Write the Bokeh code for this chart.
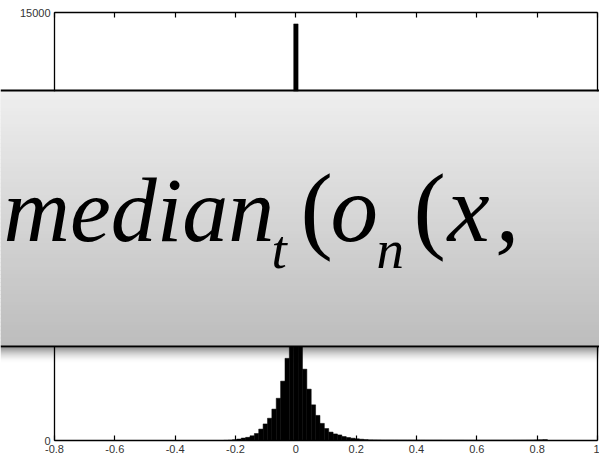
import numpy as np
from bokeh.plotting import figure
from bokeh.models import BoxAnnotation, Label, LinearAxis, FixedTicker, Range1d, ColumnDataSource
from bokeh.embed import file_html
from bokeh.resources import INLINE

# Histogram of the residuals: equal-width bins starting at first_edge
first_edge = -0.239
bin_width = 0.0145
counts = [
    6, 14, 30, 50, 85, 110, 165, 245, 400, 580, 780, 1100, 1480, 2080, 2880, 4600,
    14600,
    4300, 2500, 1800, 1250, 880, 600, 420, 295, 230, 195, 140, 105, 80, 60, 45, 32, 22,
    20, 19, 18, 18, 17, 17, 16, 16, 16, 15, 15, 15, 14, 14, 14, 14, 13, 13, 13, 13,
    13, 12, 12, 12, 12, 12, 12, 12, 12, 12, 12, 12, 13, 13, 14, 15, 17, 20, 26, 32,
]

x_lim = (-0.8, 1.0)
y_lim = (0, 15000)
x_ticks = [-0.8, -0.6, -0.4, -0.2, 0, 0.2, 0.4, 0.6, 0.8, 1]
x_tick_labels = ["-0.8", "-0.6", "-0.4", "-0.2", "0", "0.2", "0.4", "0.6", "0.8", "1"]
y_ticks = [0, 5000, 10000, 15000]
y_tick_labels = ["0", "5000", "10000", "15000"]

# Formula banner drawn across the middle of the chart
formula_parts = [
    # text, x (px), baseline (px from top), size, style
    ("median", 3, 240, 92, "italic"),
    ("t", 271, 267, 55, "italic"),
    ("(", 300, 240, 97, "normal"),
    ("o", 330, 240, 95, "italic"),
    ("n", 376, 267, 55, "italic"),
    ("(", 413, 240, 97, "normal"),
    ("x", 447, 240, 95, "italic"),
    (",", 495, 240, 95, "italic"),
]

SERIF = "'Liberation Serif', 'Times New Roman', serif"
SANS = "'Liberation Sans', Arial, sans-serif"

W, H = 599, 462
# axes box inside the canvas, in pixels
BOX_L, BOX_R, BOX_T, BOX_B = 54, 597, 12, 440

# the frame fills the whole canvas; ranges are widened so that the
# axes box lands on BOX_* and the banner can span the full width
sx = (BOX_R - BOX_L) / (x_lim[1] - x_lim[0])
sy = (BOX_B - BOX_T) / (y_lim[1] - y_lim[0])
x_range = Range1d(x_lim[0] - BOX_L / sx, x_lim[1] + (W - BOX_R) / sx)
y_range = Range1d(y_lim[0] - (H - BOX_B) / sy, y_lim[1] + BOX_T / sy)

left_edges = first_edge + bin_width * np.arange(len(counts))
src = ColumnDataSource(dict(left=left_edges, right=left_edges + bin_width,
                            top=counts, bottom=[0] * len(counts)))

p = figure(width=W, height=H, x_range=x_range, y_range=y_range,
           output_backend="svg", toolbar_location=None,
           x_axis_location=None, y_axis_location=None,
           min_border=0, min_border_left=0, min_border_right=0,
           min_border_top=0, min_border_bottom=0)
p.background_fill_color = "white"
p.border_fill_color = "white"
p.outline_line_color = None
p.grid.visible = False

p.quad(left="left", right="right", top="top", bottom="bottom", source=src,
       fill_color="black", line_color="black", line_width=0.5)


def make_axis(loc, ticks, labels, fixed, bounds, show_labels=True, show_ticks=True):
    ax = LinearAxis(fixed_location=fixed, bounds=bounds)
    ax.ticker = FixedTicker(ticks=ticks if show_ticks else [])
    ax.major_label_overrides = {t: l for t, l in zip(ticks, labels)}
    ax.major_tick_in = 5
    ax.major_tick_out = 0
    ax.minor_tick_line_color = None
    ax.axis_line_color = "black"
    ax.axis_line_width = 1.3
    ax.major_tick_line_color = "black"
    ax.major_tick_line_width = 1.2
    ax.major_label_text_font = SANS
    ax.major_label_text_font_size = "11px"
    ax.major_label_text_color = "#333333"
    ax.major_label_standoff = 4
    if not show_labels:
        ax.major_label_text_alpha = 0
    p.add_layout(ax, loc)
    return ax


make_axis("below", x_ticks, x_tick_labels, y_lim[0], x_lim)
make_axis("above", x_ticks, x_tick_labels, y_lim[1], x_lim, show_labels=False)
make_axis("left", y_ticks, y_tick_labels, x_lim[0], y_lim)
make_axis("right", y_ticks, y_tick_labels, x_lim[1], y_lim, show_labels=False, show_ticks=False)


def band(top_px, bottom_px, color, alpha=1.0):
    """Full-width horizontal band given in pixels from the top of the canvas."""
    return BoxAnnotation(left=0, right=W, top=top_px, bottom=bottom_px,
                         left_units="canvas", right_units="canvas",
                         top_units="canvas", bottom_units="canvas",
                         fill_color=color, fill_alpha=alpha, line_color=None,
                         level="annotation")


box_top, box_bottom = 91, 345
# solid base under the gradient strips so no seams show through
p.add_layout(band(box_top, box_bottom, (214, 214, 214)))
n_strips = 64
edges = np.linspace(box_top, box_bottom, n_strips + 1)
for i in range(n_strips):
    f = i / (n_strips - 1)
    g = int(round(238 + (189 - 238) * f))
    p.add_layout(band(edges[i], edges[i + 1] + 1, (g, g, g)))

# soft shadow under the banner
for i in range(16):
    a = 0.45 * (1 - i / 16) ** 2
    p.add_layout(band(box_bottom + 2 + i, box_bottom + 3 + i, "black", a))

p.add_layout(band(box_top - 2, box_top, "black"))
p.add_layout(band(box_bottom, box_bottom + 2, "black"))

for text, x, base, size, style in formula_parts:
    p.add_layout(Label(x=x, y=base - 0.33 * size, x_units="canvas", y_units="canvas", text=text,
                       text_font=SERIF, text_font_style=style,
                       text_font_size=f"{size}px", text_color="black",
                       text_baseline="alphabetic", text_align="left", level="overlay"))

open("out.html", "w").write(file_html(p, INLINE))
